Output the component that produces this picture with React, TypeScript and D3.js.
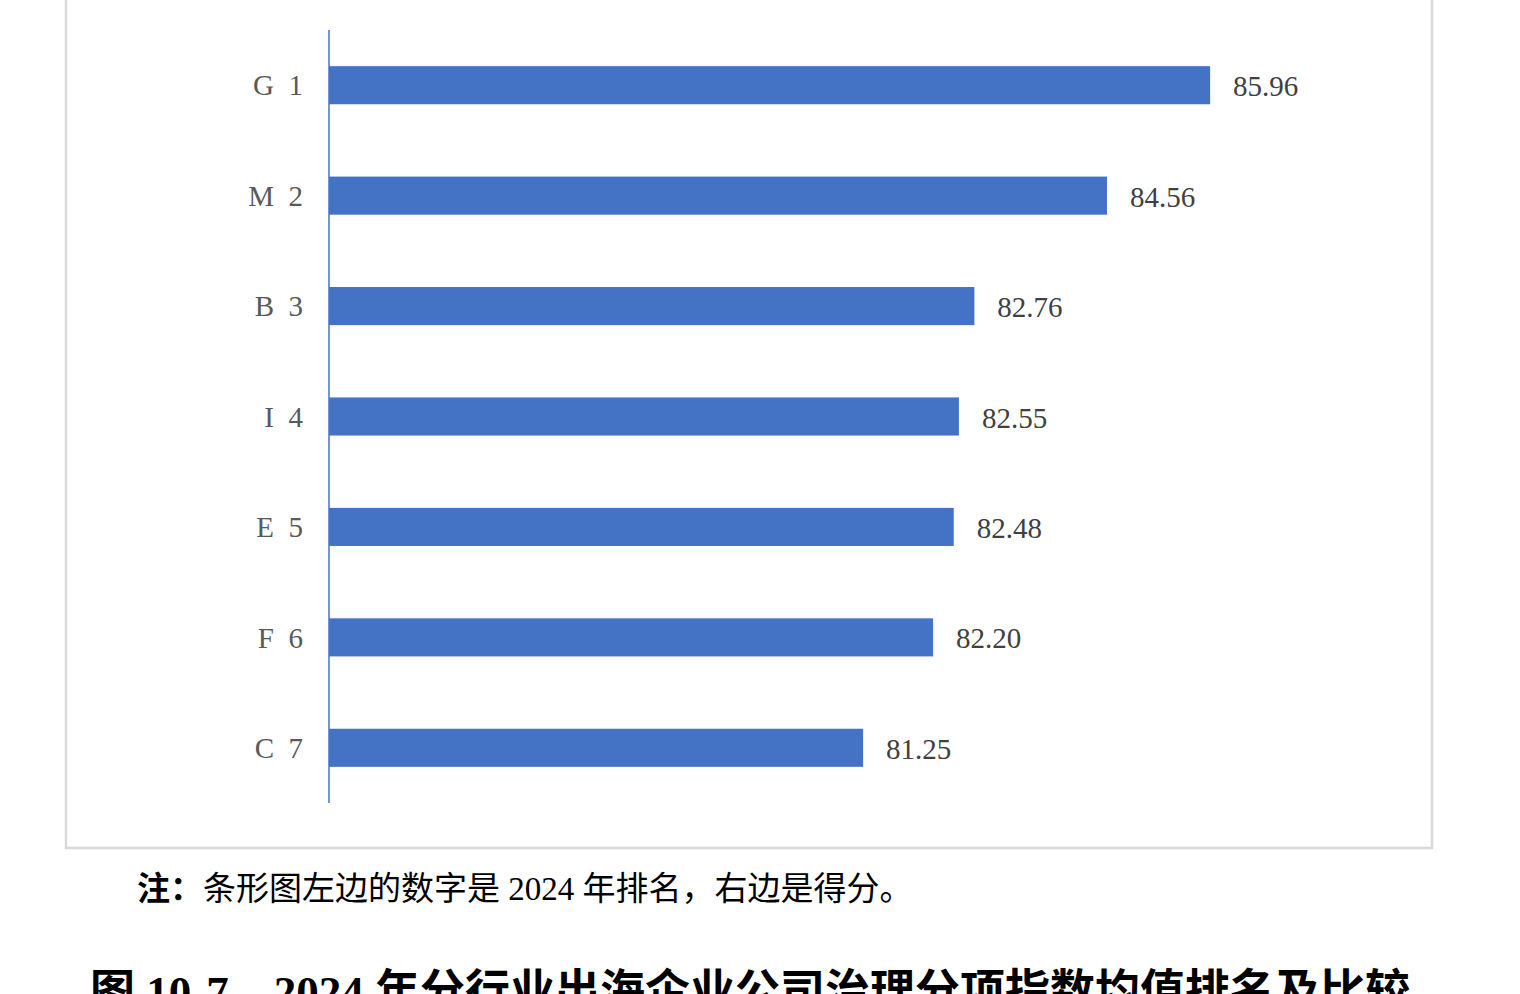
import React from "react";
import * as d3 from "d3";

const industries = ["G", "M", "B", "I", "E", "F", "C"];
const ranks = [1, 2, 3, 4, 5, 6, 7];
const scores = [85.96, 84.56, 82.76, 82.55, 82.48, 82.2, 81.25];
const noteLabel = "注：";
const noteText = "条形图左边的数字是 2024 年排名，右边是得分。";
const titleText = "图 10-7　2024 年分行业出海企业公司治理分项指数均值排名及比较";

const W = 1520;
const H = 994;
const FONT = "'Liberation Serif', 'Times New Roman', 'Noto Sans CJK SC', serif";

export default function App() {
  const labels = industries.map((d, i) => `${d}  ${ranks[i]}`);
  const x = d3.scaleLinear().domain([74, 88]).range([329, 1360.4]);
  const y = d3
    .scaleBand<string>()
    .domain(labels)
    .range([30, 803])
    .paddingInner(0.655)
    .paddingOuter(0.3275);

  return (
    <svg
      width={W}
      height={H}
      style={{ position: "absolute", left: 0, top: 0, background: "#fff" }}
      fontFamily={FONT}
    >
      <rect x={66} y={-10} width={1366} height={858} fill="none" stroke="#d9d9d9" strokeWidth={2.5} />
      {labels.map((lab, i) => {
        const yy = y(lab)!;
        const bw = y.bandwidth();
        return (
          <g key={lab}>
            <rect x={x(74)} y={yy} width={x(scores[i]) - x(74)} height={bw} fill="#4472C4" />
            <text
              x={303}
              y={yy + bw / 2}
              dy="0.35em"
              textAnchor="end"
              fontSize={29}
              fill="#595959"
              style={{ whiteSpace: "pre" }}
            >
              {lab}
            </text>
            <text x={x(scores[i]) + 23} y={yy + bw / 2} dy="0.38em" fontSize={29} fill="#404040">
              {d3.format(".2f")(scores[i])}
            </text>
          </g>
        );
      })}
      <line x1={x(74)} x2={x(74)} y1={30} y2={803} stroke="#4472C4" strokeWidth={1.5} />
      <text x={137} y={900} fontSize={33} fill="#000">
        <tspan fontWeight="bold">{noteLabel}</tspan>
        <tspan>{noteText}</tspan>
      </text>
      <text x={90} y={1007} fontSize={45} fontWeight="bold" fill="#000" style={{ whiteSpace: "pre" }}>
        {titleText}
      </text>
    </svg>
  );
}
